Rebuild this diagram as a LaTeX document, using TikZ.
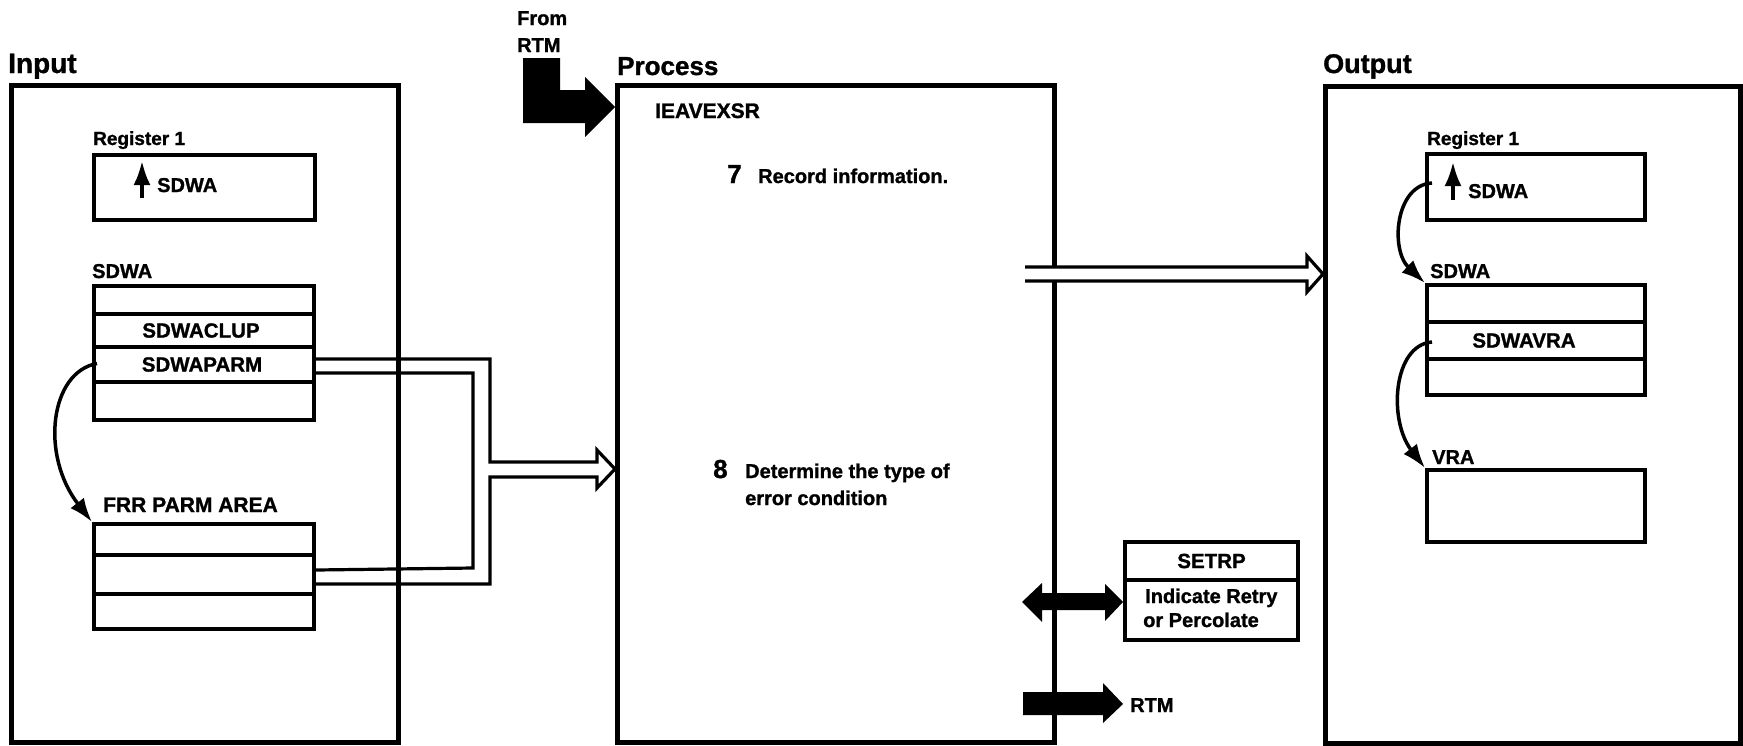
\documentclass[tikz,border=0pt]{standalone}
\usepackage{fontspec}
\setmainfont{Liberation Sans}[BoldFeatures={FakeBold=1.2}]
\usetikzlibrary{arrows.meta,calc}
\begin{document}
\begin{tikzpicture}[x=1pt,y=-1pt,
  panel/.style={draw,line width=5pt,inner sep=0pt,anchor=north west},
  cell/.style={draw,line width=4pt,inner sep=0pt,anchor=north west,minimum width=220pt},
  lbl/.style={inner sep=0pt,anchor=base west,font=\bfseries\fontsize{20}{24}\selectfont},
  smalllbl/.style={lbl,font=\bfseries\fontsize{19}{23}\selectfont},
  title/.style={inner sep=0pt,anchor=base west,font=\bfseries\fontsize{26}{30}\selectfont},
  ctext/.style={inner sep=0pt,font=\bfseries\fontsize{20.5}{24}\selectfont},
  ptr/.style={line width=3.5pt,-{Latex[length=24pt,width=17pt]}},
  band/.style={line width=3.2pt,line join=miter},
]
\useasboundingbox (0,0) rectangle (1743,745);

% ---- the three panels ----
\node[panel,minimum width=387pt,minimum height=657pt] (input) at (9,83) {};
\node[panel,minimum width=437pt,minimum height=657pt] (process) at (615,83) {};
\node[panel,minimum width=415pt,minimum height=657pt] (output) at (1323,84) {};
\node[title,font=\bfseries\fontsize{28}{32}\selectfont] (tinput) at (8,73) {Input};
\node[title] (tprocess) at (617,75) {Process};
\node[title,font=\bfseries\fontsize{27}{32}\selectfont] (toutput) at (1323,73) {Output};

% ---- input: register 1 ----
\node[smalllbl] (inreglbl) at (93,145) {Register 1};
\node[cell,minimum width=221pt,minimum height=65pt] (inreg) at (92,153) {};
\coordinate (inptrtail) at (142,198);
\coordinate (inptrhead) at (142,161);
\draw[ptr] (inptrtail) -- (inptrhead);
\node[lbl] (inregtxt) at (157,192) {SDWA};

% ---- input: SDWA ----
\node[lbl] (insdwalbl) at (92,278) {SDWA};
\node[cell,minimum height=28pt] (ins1) at (92,284) {};
\node[cell,minimum height=33pt] (ins2) at (92,312) {};
\node[cell,minimum height=35pt] (ins3) at (92,345) {};
\node[cell,minimum height=38pt] (ins4) at (92,380) {};
\node[ctext] (clup) at ($(ins2.center)+(-3,0)$) {SDWACLUP};
\node[ctext] (parm) at ($(ins3.center)+(-2,0)$) {SDWAPARM};

% ---- input: FRR parameter area ----
\node[lbl,font=\bfseries\fontsize{21}{25}\selectfont] (frrlbl) at (103,512) {FRR PARM AREA};
\node[cell,minimum height=31pt] (frr1) at (92,522) {};
\node[cell,minimum height=39pt] (frr2) at (92,553) {};
\node[cell,minimum height=35pt] (frr3) at (92,592) {};

% pointer from SDWAPARM to the FRR parameter area
\draw[ptr] ($(ins3.west)+(5,-1)$) .. controls (50,372) and (40,455) .. (frr1.north west);

% ---- hollow band from the input fields into the process ----
\coordinate (b1) at ($(ins3.east)+(0,-5.5)$);
\coordinate (b2) at ($(ins3.east)+(0,8.5)$);
\coordinate (b3) at ($(frr2.east)+(0,-4.5)$);
\coordinate (b4) at ($(frr2.east)+(0,9.5)$);
\coordinate (btip) at (615,469);
\draw[band] (b1) -| (490,462) -- (597,462) -- (597,450) -- (btip)
  -- (597,488) -- (597,477) -- (490,477) |- (b4);
\draw[band] (b2) -| (473,568) -- (b3);

% ---- entry from RTM ----
\node[lbl] (fromlbl) at (517,25) {From};
\node[lbl] (rtmlbl) at (517,52) {RTM};
\coordinate (entrytip) at (615,107);
\fill (523,58) -- (560,58) -- (560,90) -- (585,90) -- (585,77) -- (entrytip)
  -- (585,137) -- (585,123) -- (523,123) -- cycle;

% ---- process text ----
\node[lbl,font=\bfseries\fontsize{21}{25}\selectfont] (module) at (655,118) {IEAVEXSR};
\node[title] (step7) at (727,183) {7};
\node[lbl] (step7txt) at (758,183) {Record information.};
\node[title] (step8) at (713,478) {8};
\node[lbl] (step8a) at (745,478) {Determine the type of};
\node[lbl] (step8b) at (745,505) {error condition};

% ---- hollow band from the process to the output ----
\coordinate (otip) at (1323,274);
\fill[white] (1025,267) -- (1307,267) -- (1307,256) -- (otip) -- (1307,292)
  -- (1307,281) -- (1025,281) -- cycle;
\draw[band] (1025,267) -- (1307,267) -- (1307,256) -- (otip) -- (1307,292)
  -- (1307,281) -- (1025,281);

% ---- SETRP ----
\node[cell,minimum width=173pt,minimum height=38pt] (setrp) at (1123,540) {};
\node[cell,minimum width=173pt,minimum height=60pt] (retry) at (1123,578) {};
\node[ctext] (setrptxt) at (setrp.center) {SETRP};
\node[lbl] (retrya) at (1145,603) {Indicate Retry};
\node[lbl] (retryb) at (1143,627) {or Percolate};
\fill (1022,602) -- (1042,583) -- (1042,593) -- (1105,593) -- (1105,584)
  -- (retry.west |- 0,602) -- (1105,621) -- (1105,610) -- (1042,610)
  -- (1042,622) -- cycle;

% ---- return to RTM ----
\node[lbl] (rtmout) at (1130,712) {RTM};
\fill (1023,692) -- (1103,692) -- (1103,683) -- (1123,704) -- (1103,723)
  -- (1103,715) -- (1023,715) -- cycle;

% ---- output: register 1 ----
\node[smalllbl] (outreglbl) at (1427,145) {Register 1};
\node[cell,minimum width=218pt,minimum height=66pt] (outreg) at (1425,152) {};
\coordinate (outptrtail) at (1453,200);
\coordinate (outptrhead) at (1453,162);
\draw[ptr] (outptrtail) -- (outptrhead);
\node[lbl] (outregtxt) at (1468,198) {SDWA};

% ---- output: SDWA ----
\node[lbl] (outsdwalbl) at (1430,278) {SDWA};
\node[cell,minimum width=218pt,minimum height=37pt] (outs1) at (1425,283) {};
\node[cell,minimum width=218pt,minimum height=37pt] (outs2) at (1425,320) {};
\node[cell,minimum width=218pt,minimum height=36pt] (outs3) at (1425,357) {};
\node[ctext] (vrafield) at ($(outs2.center)+(-12,0)$) {SDWAVRA};

% ---- output: VRA ----
\node[lbl] (vralbl) at (1432,464) {VRA};
\node[cell,minimum width=218pt,minimum height=72pt] (vra) at (1425,468) {};

% pointers on the output side
\draw[ptr] ($(outreg.west)+(7,-4)$) .. controls (1395,185) and (1390,250) .. (outs1.north west);
\draw[ptr] ($(outs2.west)+(7,1.5)$) .. controls (1393,345) and (1388,420) .. (vra.north west);
\end{tikzpicture}
\end{document}
